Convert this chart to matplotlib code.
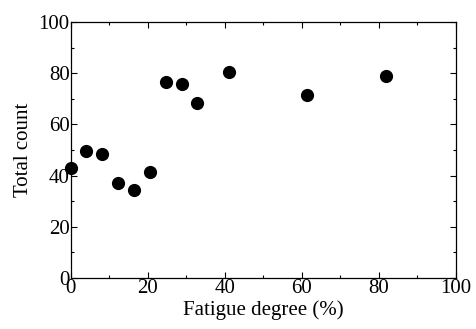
import matplotlib
matplotlib.use("Agg")
import matplotlib.pyplot as plt
from matplotlib.ticker import MultipleLocator

# Fatigue degree (%) vs total count
fatigue = [0.0, 4.0, 8.1, 12.3, 16.4, 20.5, 24.7, 28.8, 32.8, 41.0, 61.3, 81.9]
total_count = [42.9, 49.6, 48.6, 37.2, 34.2, 41.5, 76.4, 75.8, 68.2, 80.6, 71.4, 78.8]

plt.rcParams['font.family'] = ['Liberation Serif', 'DejaVu Serif']

fig = plt.figure(figsize=(4.76, 3.29), dpi=100)
ax = fig.add_axes([0.149, 0.155, 0.809, 0.778])

ax.scatter(fatigue, total_count, s=72, color='black', zorder=3, clip_on=False)

ax.set_xlim(0, 100)
ax.set_ylim(0, 100)
ax.xaxis.set_major_locator(MultipleLocator(20))
ax.xaxis.set_minor_locator(MultipleLocator(10))
ax.yaxis.set_major_locator(MultipleLocator(20))
ax.yaxis.set_minor_locator(MultipleLocator(10))

ax.tick_params(which='both', direction='in', top=True, right=True, width=0.8)
ax.tick_params(which='major', length=4, labelsize=15)
ax.tick_params(which='minor', length=2.5)
ax.tick_params(axis='x', pad=0.5)
ax.tick_params(axis='y', pad=1)
for sp in ax.spines.values():
    sp.set_linewidth(0.9)

ax.set_xlabel('Fatigue degree (%)', fontsize=15, labelpad=2)
ax.set_ylabel('Total count', fontsize=15, labelpad=4)

fig.savefig('out.png', dpi=100)
